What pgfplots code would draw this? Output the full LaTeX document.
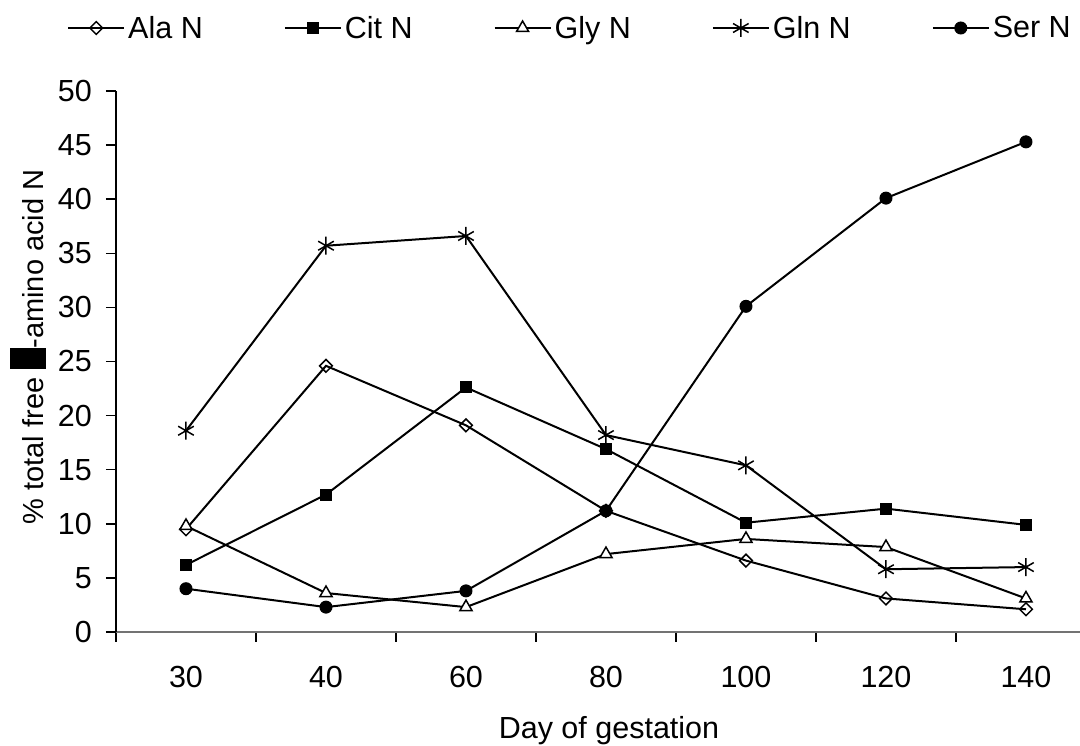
\documentclass[border=0pt]{standalone}
\usepackage{fontspec}
\setmainfont{Liberation Sans}
\usepackage{pgfplots}
\pgfplotsset{compat=1.18}
\newcommand{\bigf}{\fontsize{30.5}{36}\selectfont}
\newcommand{\labf}{\fontsize{29}{34}\selectfont}
\begin{document}
\begin{tikzpicture}[font=\bigf]
\begin{axis}[
  at={(0pt,0pt)}, anchor=south west,
  scale only axis, width=964pt, height=541pt,
  xmin=-0.5, xmax=6.386, ymin=0, ymax=50,
  axis x line*=bottom, axis y line*=left,
  x axis line style={draw=black!55, line width=1.5pt, -},
  y axis line style={draw=black, line width=1.5pt, -},
  tick align=outside, major tick length=10pt,
  tick style={black, line width=1.5pt},
  tick label style={font=\bigf},
  label style={font=\bigf},
  xtick={-0.5,0.5,...,5.5}, xticklabels={},
  extra x ticks={0,1,2,3,4,5,6},
  extra x tick labels={30,40,60,80,100,120,140},
  extra x tick style={major tick length=0pt, xticklabel style={anchor=base, yshift=-56pt, inner sep=0pt}},
  ytick={0,5,...,50},
  yticklabel style={anchor=east, inner sep=0pt, xshift=-14pt},
  /pgf/number format/assume math mode=true,
  xlabel={Day of gestation},
  every axis x label/.style={at={(axis description cs:0.5114,-0.196)}, anchor=base, font=\bigf},
  ylabel={\% total free \rule[-3pt]{21pt}{36pt}-amino acid N},
  every axis y label/.style={at={(axis description cs:-0.0757,0.527)}, rotate=90, anchor=base, font=\labf},
  legend columns=5,
  legend style={at={(axis description cs:-0.0508,1)}, anchor=south west, yshift=51pt,
    draw=none, fill=none, inner sep=0pt, font=\bigf, nodes={inner xsep=3pt, inner ysep=0pt},
    /tikz/every even column/.append style={column sep=78pt}},
  legend image code/.code={\draw[mark repeat=2,mark phase=2] plot coordinates {(0pt,0pt) (28pt,0pt) (56pt,0pt)};},
  every axis plot/.append style={black, line width=2pt},
  clip=false,
]
\addplot[mark=square, mark size=4.5pt, mark options={rotate=45, fill=white, line width=1.5pt}]
  coordinates {(0,9.5) (1,24.6) (2,19.1) (3,11.2) (4,6.6) (5,3.1) (6,2.1)};
\addlegendentry{Ala N}
\addplot[mark=square*, mark size=5.5pt, mark options={fill=black, line width=1pt}]
  coordinates {(0,6.2) (1,12.7) (2,22.6) (3,16.9) (4,10.1) (5,11.4) (6,9.9)};
\addlegendentry{Cit N}
\addplot[mark=triangle*, mark size=7pt, mark options={fill=white, line width=1.5pt}]
  coordinates {(0,9.8) (1,3.6) (2,2.3) (3,7.2) (4,8.6) (5,7.85) (6,3.1)};
\addlegendentry{Gly N}
\addplot[mark=asterisk, mark size=9pt, mark options={line width=1.5pt}]
  coordinates {(0,18.6) (1,35.7) (2,36.6) (3,18.2) (4,15.4) (5,5.8) (6,6.0)};
\addlegendentry{Gln N}
\addplot[mark=*, mark size=6pt, mark options={fill=black, line width=1pt}]
  coordinates {(0,4.0) (1,2.3) (2,3.8) (3,11.2) (4,30.1) (5,40.1) (6,45.3)};
\addlegendentry{Ser N}
\end{axis}
\pgfresetboundingbox
\path[use as bounding box] (-116pt,-114pt) rectangle (964pt,632pt);
\end{tikzpicture}
\end{document}
